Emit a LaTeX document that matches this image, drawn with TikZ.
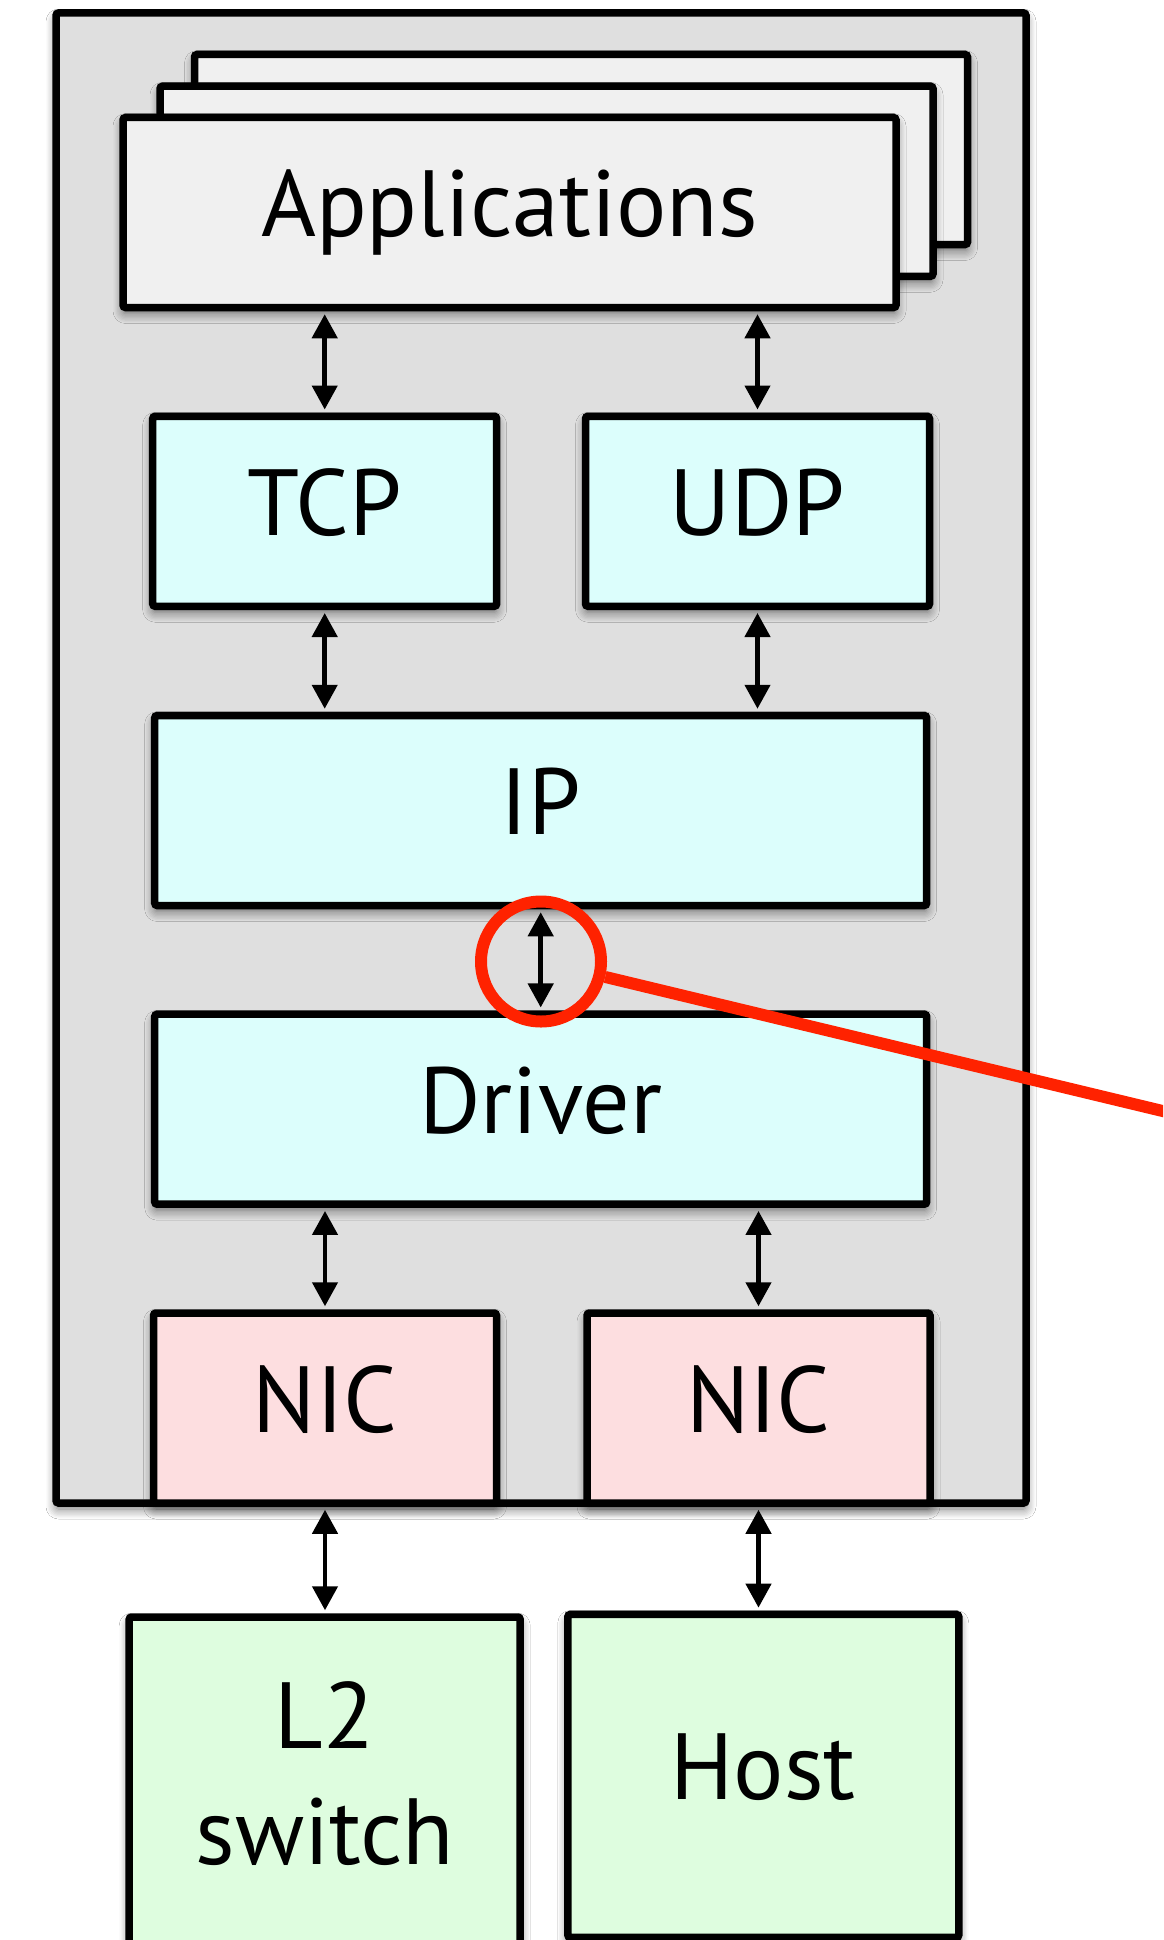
\documentclass[tikz,border=0pt]{standalone}
\usepackage{fontspec}
\setmainfont{PT Sans}
\usetikzlibrary{arrows.meta,shadows.blur}
\definecolor{outerbg}{RGB}{223,223,223}
\definecolor{appbg}{RGB}{240,240,240}
\definecolor{stackbg}{RGB}{220,254,252}
\definecolor{nicbg}{RGB}{253,222,224}
\definecolor{peerbg}{RGB}{222,253,223}
\definecolor{callout}{RGB}{255,34,0}
\begin{document}
\begin{tikzpicture}[x=1pt,y=-1pt,
  shd/.style={blur shadow={shadow xshift=0pt,shadow yshift=-6pt,shadow blur radius=10pt,shadow blur steps=8,shadow opacity=55}},
  box/.style={rectangle,draw=black,line width=7.5pt,rounded corners=2.5pt,inner sep=0pt,shd},
  lbl/.style={font=\fontsize{94}{115.6}\selectfont,text height=66pt,text depth=18pt},
  appbox/.style={box,fill=appbg,minimum width=773pt,minimum height=190pt},
  layer/.style={box,fill=stackbg,minimum height=190pt,lbl},
  nicbox/.style={box,fill=nicbg,minimum width=343pt,minimum height=190pt,lbl},
  peer/.style={box,fill=peerbg,minimum width=391pt},
  conn/.style={{Triangle[width=25pt,length=24pt]}-{Triangle[width=25pt,length=24pt]},line width=4.5pt,shorten <=3pt,shorten >=3pt},
  ring/.style={circle,draw=callout,line width=12pt,minimum size=120pt,inner sep=0pt},
  pointer/.style={draw=callout,line width=12pt}
]
\useasboundingbox (0,0) rectangle (1163,1940);
\clip (0,0) rectangle (1163,1940);
\fill[white] (0,0) rectangle (1163,1940);

\node[box,fill=outerbg,minimum width=970pt,minimum height=1490pt] (machine) at (541,758) {};

\node[appbox] (app3) at (581,149.5) {};
\node[appbox] (app2) at (546.5,181.25) {};
\node[appbox,lbl] (apps) at (509.5,212.5) {Applications};

\node[layer,minimum width=344pt] (tcp) at (324.7,511.25) {TCP};
\node[layer,minimum width=344pt] (udp) at (757.5,511.25) {UDP};
\node[layer,minimum width=772pt] (ip) at (540.7,810.5) {IP};
\node[layer,minimum width=772pt] (driver) at (540.7,1109.2) {Driver};

\node[nicbox] (nicl) at (325,1408) {NIC};
\node[nicbox] (nicr) at (758.5,1408) {NIC};

\node[peer,minimum height=329pt] (l2) at (324.7,1781.5) {};
\node[font=\fontsize{94}{115.6}\selectfont,align=center,inner sep=0pt] (l2text) at (324.7,1773.3) {L2\\switch};
\node[peer,minimum height=323pt,lbl] (host) at (763.3,1775.9) {Host};

\draw[conn] (apps.south -| tcp.north) -- (tcp.north);
\draw[conn] (apps.south -| udp.north) -- (udp.north);
\draw[conn] (tcp.south) -- (tcp.south |- ip.north);
\draw[conn] (udp.south) -- (udp.south |- ip.north);
\draw[conn] (ip.south) -- (driver.north);
\draw[conn] (driver.south -| nicl.north) -- (nicl.north);
\draw[conn] (driver.south -| nicr.north) -- (nicr.north);
\draw[conn] (nicl.south) -- (nicl.south |- l2.north);
\draw[conn] (nicr.south) -- (nicr.south |- host.north);

\node[ring] (mag) at (541,961.5) {};
\coordinate (far) at (1200,1120);
\draw[pointer] (mag) -- (far);
\end{tikzpicture}
\end{document}
